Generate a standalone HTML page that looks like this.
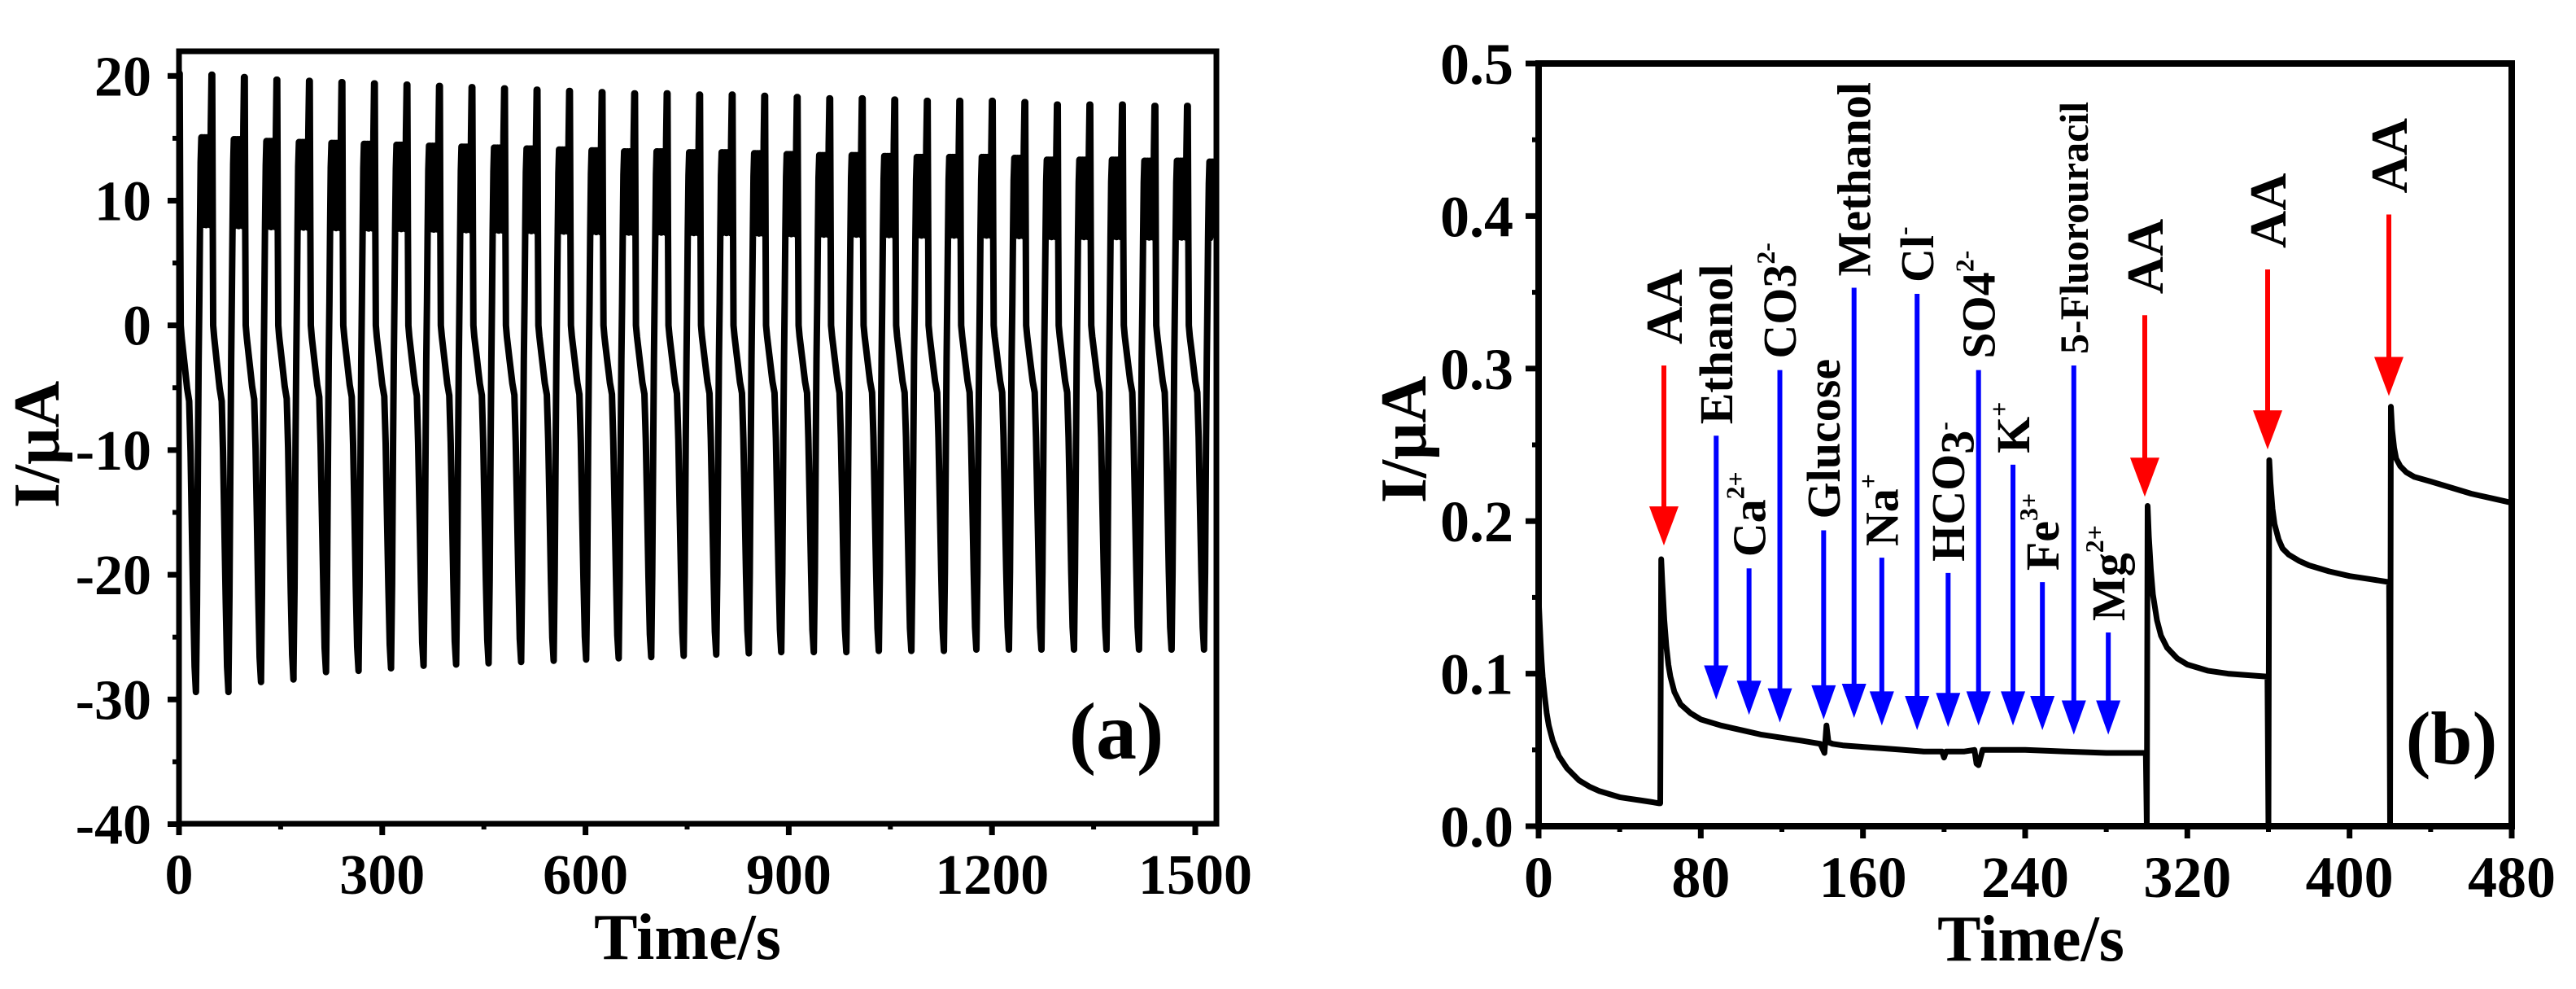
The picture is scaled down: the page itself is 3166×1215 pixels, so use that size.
<!DOCTYPE html>
<html><head><meta charset="utf-8"><style>
html,body{margin:0;padding:0;background:#fff;}
svg{display:block;}
text{font-family:"Liberation Serif",serif;font-weight:bold;fill:#000;}
</style></head><body>
<svg id="fig" xmlns="http://www.w3.org/2000/svg" width="3166" height="1215" viewBox="0 0 3166 1215">
<g id="pa"></g>
<g id="pb"></g>
</svg>
<script>
// ---------- Panel (a) data ----------
const aCycleStart = -23;      // s, time of first minimum minus one period
const aPeriod = 48;           // s
const aPeaks = [20.2,20.1,19.9,19.7,19.6,19.5,19.4,19.3,19.2,19.1,19.0,18.9,18.8,18.7,18.6,18.6,18.5,18.5,18.4,18.3,18.2,18.2,18.1,18.0,18.0,18.0,17.9,17.7,17.7,17.7,17.6,17.6,17.5];
const aMins = [-29.4,-29.4,-28.6,-28.4,-27.8,-27.7,-27.5,-27.3,-27.2,-27.1,-27.0,-26.9,-26.8,-26.7,-26.6,-26.5,-26.4,-26.3,-26.2,-26.2,-26.2,-26.1,-26.1,-26.1,-26.0,-26.0,-26.0,-26.0,-26.0,-26.0,-26.0,-26.0,-26.0];
const aShapeT = [0,1.5,3,4,5,6,7,8,9,10,12,13,15,16,18,19,21,22,23,24,24.8,25.5,27,31,35,38,40,42,44,46,48];
const aShapeV = [-29,-22,-10,-3,2,8,13,15,8,15,9,15,8,15,9,15,8,16,20,20,8,0,-1,-3,-5,-6,-10,-16,-22,-27,-29];
const aXTicks = [0,300,600,900,1200,1500];
const aYTicks = [20,10,0,-10,-20,-30,-40];

// ---------- Panel (b) data ----------
const bTimes = [0,0.5,1,1.5,2,3,4,5,7,10,14,20,25,30,35,40,45,50,55,59.5,60,60.5,61,62,63,64,65,67,70,75,80,90,100,110,120,130,139,141,142,143,145,150,160,170,180,190,199,200,201,210,215,216,217,219,230,240,260,280,299.5,300,300.4,301,302,303,305,307,310,315,320,330,340,350,359.5,360,360.4,361,362,363,365,367,370,375,380,390,400,410,419.5,420,420.4,421,422,423,425,428,432,440,450,460,470,480];
const bValues = [0.15,0.135,0.12,0.108,0.098,0.085,0.074,0.066,0.056,0.046,0.038,0.030,0.026,0.023,0.021,0.019,0.018,0.017,0.016,0.015,0.015,0.175,0.16,0.135,0.118,0.106,0.098,0.088,0.080,0.074,0.070,0.066,0.063,0.060,0.058,0.056,0.054,0.048,0.066,0.055,0.054,0.053,0.052,0.051,0.050,0.049,0.049,0.045,0.049,0.049,0.050,0.041,0.040,0.050,0.050,0.050,0.049,0.048,0.048,0,0.21,0.19,0.168,0.152,0.135,0.125,0.117,0.110,0.106,0.102,0.100,0.099,0.098,0,0.24,0.225,0.208,0.198,0.188,0.182,0.178,0.174,0.171,0.167,0.164,0.162,0.160,0,0.275,0.26,0.248,0.241,0.236,0.232,0.229,0.226,0.222,0.218,0.215,0.212,0.208];
const bXTicks = [0,80,160,240,320,400,480];
const bYTicks = [0,0.1,0.2,0.3,0.4,0.5];
const arrowNames = ["Ethanol","Ca2+","CO32-","Glucose","Methanol","Na+","Cl-","HCO3-","SO42-","K+","Fe3+","5-Fluorouracil","Mg2+"];
const arrowT = [87.6,103.8,119,140.6,155.6,169.3,186.7,202,217,234,248.5,264,281];
const arrowTop = [0.256,0.169,0.299,0.194,0.353,0.176,0.349,0.166,0.299,0.237,0.160,0.302,0.127];
const arrowTip = [0.083,0.073,0.068,0.070,0.071,0.066,0.063,0.065,0.066,0.066,0.063,0.060,0.060];
const aaT = [61.8,299,359.6,419.4];
const aaTop = [0.302,0.335,0.365,0.401];
const aaTip = [0.184,0.216,0.247,0.282];

const NS = "http://www.w3.org/2000/svg";
function mk(tag, attrs, parent){const e=document.createElementNS(NS,tag);for(const k in attrs)e.setAttribute(k,attrs[k]);parent.appendChild(e);return e;}

// ---------- Panel (a) ----------
const pa = document.getElementById('pa');
const xa = t => 220 + t*(1249/1500);
const ya = v => 399.7 - v*15.32;
let pts=[];
for(let k=0;k<aPeaks.length;k++){
  const t0 = aCycleStart + k*aPeriod;
  for(let i=0;i<aShapeT.length;i++){
    const t=t0+aShapeT[i];
    if(t<0||t>1528) continue;
    const base=aShapeV[i];
    const v = base>=0 ? base*aPeaks[k]/20 : base*aMins[k]/-29;
    pts.push(xa(t).toFixed(1)+','+ya(v).toFixed(1));
  }
}
let el = mk('polyline',{points:pts.join(' '),fill:'none',stroke:'#000','stroke-width':8,'stroke-linejoin':'round'},pa);


el = mk('rect',{x:220,y:63,width:1275,height:949,fill:'none',stroke:'#000','stroke-width':7},pa);


aXTicks.forEach(t=>{
  mk('line',{x1:xa(t),x2:xa(t),y1:1012,y2:1026,stroke:'#000','stroke-width':7},pa);
  el = mk('text',{x:xa(t),y:1098,'text-anchor':'middle','font-size':70},pa); el.textContent=t;
  
  
  if(t<1500) mk('line',{x1:xa(t+150),x2:xa(t+150),y1:1012,y2:1019,stroke:'#000','stroke-width':6},pa);
});
aYTicks.forEach(v=>{
  mk('line',{x1:206,x2:220,y1:ya(v),y2:ya(v),stroke:'#000','stroke-width':7},pa);
  el = mk('text',{x:186,y:ya(v)+24,'text-anchor':'end','font-size':70},pa); el.textContent=v;
  
  
  if(v>-40) mk('line',{x1:212,x2:220,y1:ya(v-5),y2:ya(v-5),stroke:'#000','stroke-width':6},pa);
});
el = mk('text',{x:845,y:1178,'text-anchor':'middle','font-size':80},pa); el.textContent='Time/s';


el = mk('text',{transform:'translate(72,546) rotate(-90)','text-anchor':'middle','font-size':80},pa); el.textContent='I/μA';


el = mk('text',{x:1372,y:932,'text-anchor':'middle','font-size':100},pa); el.textContent='(a)';



// ---------- Panel (b) ----------
const pb = document.getElementById('pb');
const xb = t => 1891 + t*(1196/480);
const yb = v => 1015 - v*1874;
pts = bTimes.map((t,i)=>xb(t).toFixed(1)+','+yb(bValues[i]).toFixed(1));
el = mk('polyline',{points:pts.join(' '),fill:'none',stroke:'#000','stroke-width':7,'stroke-linejoin':'round'},pb);


el = mk('rect',{x:1891,y:78,width:1196,height:937,fill:'none',stroke:'#000','stroke-width':8},pb);


bXTicks.forEach(t=>{
  mk('line',{x1:xb(t),x2:xb(t),y1:1015,y2:1030,stroke:'#000','stroke-width':7},pb);
  el = mk('text',{x:xb(t),y:1102,'text-anchor':'middle','font-size':72},pb); el.textContent=t;
  
  
  if(t<480) mk('line',{x1:xb(t+40),x2:xb(t+40),y1:1015,y2:1022,stroke:'#000','stroke-width':6},pb);
});
bYTicks.forEach(v=>{
  mk('line',{x1:1875,x2:1891,y1:yb(v),y2:yb(v),stroke:'#000','stroke-width':7},pb);
  el = mk('text',{x:1860,y:yb(v)+25,'text-anchor':'end','font-size':72},pb); el.textContent=v.toFixed(1);
  
  
  if(v<0.5) mk('line',{x1:1883,x2:1891,y1:yb(v+0.05),y2:yb(v+0.05),stroke:'#000','stroke-width':6},pb);
});
el = mk('text',{x:2496,y:1180,'text-anchor':'middle','font-size':80},pb); el.textContent='Time/s';


el = mk('text',{transform:'translate(1752,540) rotate(-90)','text-anchor':'middle','font-size':80},pb); el.textContent='I/μA';


el = mk('text',{x:3013,y:938,'text-anchor':'middle','font-size':92},pb); el.textContent='(b)';



function arrow(t,top,tip,color,hw,hh,name){
  const g=mk('g',{},pb);
  
  
  const x=xb(t), y1=yb(top), y2=yb(tip);
  mk('line',{x1:x,x2:x,y1:y1,y2:y2-hh+4,stroke:color,'stroke-width':6},g);
  mk('polygon',{points:`${x-hw/2},${y2-hh} ${x+hw/2},${y2-hh} ${x},${y2}`,fill:color},g);
}
const labelParts = {
  "Ethanol":[["Ethanol",""]],"Ca2+":[["Ca",""],["2+","sup"]],"CO32-":[["CO3",""],["2-","sup"]],
  "Glucose":[["Glucose",""]],"Methanol":[["Methanol",""]],"Na+":[["Na",""],["+","sup"]],
  "Cl-":[["Cl",""],["-","sup"]],"HCO3-":[["HCO",""],["3","sub"],["-","sup"]],"SO42-":[["SO4",""],["2-","sup"]],
  "K+":[["K",""],["+","sup"]],"Fe3+":[["Fe",""],["3+","sup"]],"5-Fluorouracil":[["5-Fluorouracil",""]],"Mg2+":[["Mg",""],["2+","sup"]]
};
arrowNames.forEach((n,i)=>{
  arrow(arrowT[i],arrowTop[i],arrowTip[i],'#0000ff',30,42,'interferent-arrow');
  const fs = n==="5-Fluorouracil" ? 50 : 58;
  const tx = mk('text',{transform:`translate(${xb(arrowT[i])+fs*0.34},${yb(arrowTop[i])-14}) rotate(-90)`,'font-size':fs},pb);
  
  
  labelParts[n].forEach(p=>{
    const s=document.createElementNS(NS,'tspan');
    s.textContent=p[0];
    if(p[1]==='sup'){s.setAttribute('font-size',fs*0.55);s.setAttribute('dy',-fs*0.45);}
    if(p[1]==='sub'){s.setAttribute('font-size',fs);s.setAttribute('dy',fs*0.2);}
    tx.appendChild(s);
  });
});
aaT.forEach((t,i)=>{
  arrow(t,aaTop[i],aaTip[i],'#ff0000',36,48,'aa-arrow');
  const tx = mk('text',{transform:`translate(${xb(t)+22},${yb(aaTop[i])-26}) rotate(-90)`,'font-size':64},pb);
  tx.textContent='AA';
  
  
});
</script>
</body></html>
